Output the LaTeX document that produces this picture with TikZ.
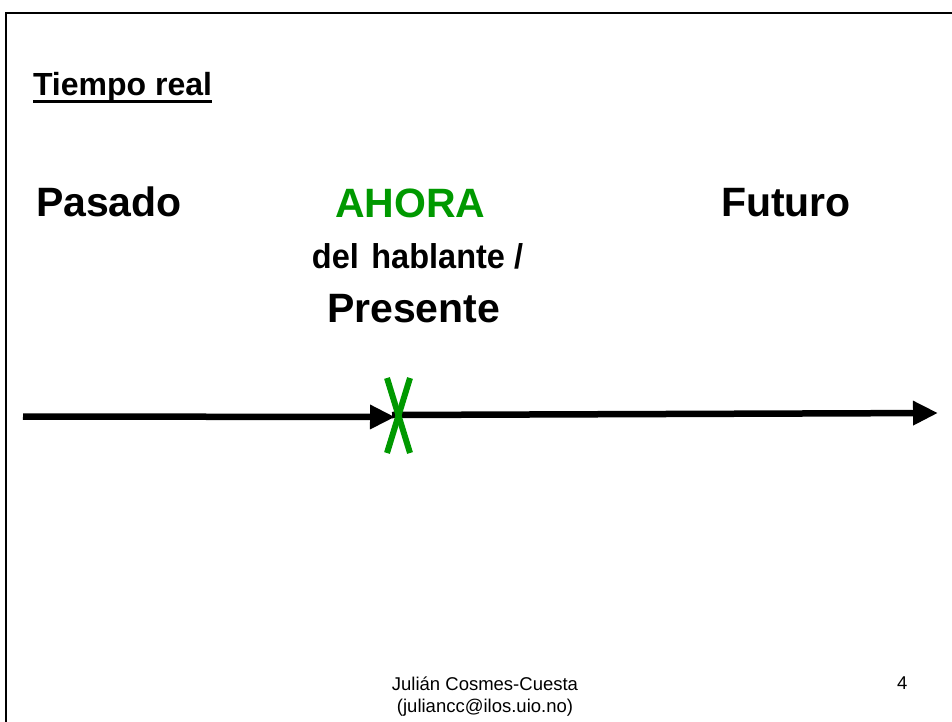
\documentclass[tikz,border=0pt]{standalone}
\usepackage{fontspec}
\setmainfont{Liberation Sans}
\usetikzlibrary{arrows.meta}
\definecolor{ahoragreen}{RGB}{0,153,0}
\tikzset{
  txt/.style={inner sep=0pt, outer sep=0pt, anchor=base west},
  big/.style={txt, font=\fontsize{41}{49}\selectfont\bfseries},
  timeline/.style={line width=6.5pt, -{Triangle[length=25pt,width=23pt]}},
  nowmark/.style={line width=6pt, draw=ahoragreen},
  foot/.style={inner sep=0pt, outer sep=0pt, font=\fontsize{18.5}{21}\selectfont}
}
\begin{document}
\begin{tikzpicture}[x=1pt,y=-1pt]
\useasboundingbox (0,0) rectangle (952,722);
\fill[white] (0,0) rectangle (952,722);
\draw[line width=2.5pt] (6,760) -- (6,13) -- (990,13);

\node[txt, font=\fontsize{32}{38}\selectfont\bfseries] (title) at (33,96) {Tiempo real};
\draw[line width=3pt] ([yshift=-5.5pt]title.base west) -- ([yshift=-5.5pt]title.base east);

\node[big] (pasado) at (36,216) {Pasado};
\node[big, text=ahoragreen] (ahora) at (335,217) {AHORA};
\node[big] (futuro) at (721,216) {Futuro};
\node[txt, anchor=base, font=\fontsize{32.5}{38}\selectfont\bfseries, yscale=1.06, transform shape] (hablante) at (417.5,268) {del\hspace{3.5pt} hablante /};
\node[big] (presente) at (327,322) {Presente};

\coordinate (s1) at (23,416.5);
\coordinate (now) at (395,417);
\coordinate (s2) at (392,415);
\coordinate (end) at (938,413);
\draw[timeline] (s1) -- (now);
\draw[timeline] (s2) -- (end);

\coordinate (xa) at (387,378);
\coordinate (xb) at (410,453);
\coordinate (xc) at (410,378);
\coordinate (xd) at (387,453);
\draw[nowmark] (xa) -- (xb);
\draw[nowmark] (xc) -- (xd);

\node[foot, anchor=base] (author) at (485,690) {Julián Cosmes-Cuesta};
\node[foot, anchor=base] (email) at (485,712) {(juliancc@ilos.uio.no)};
\node[foot, anchor=base west] (page) at (897,689) {4};
\end{tikzpicture}
\end{document}
